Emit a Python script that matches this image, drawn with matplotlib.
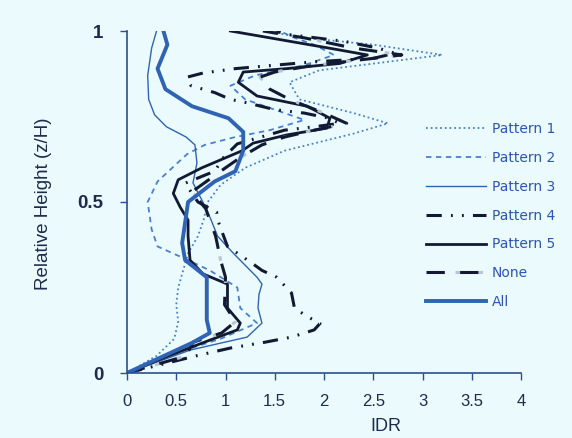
import matplotlib
matplotlib.use("Agg")
import matplotlib.pyplot as plt

# Data (IDR on x, relative height z/H on y)
y_p1 = [0, 0.05, 0.1, 0.15, 0.2, 0.25, 0.3, 0.35, 0.4, 0.45, 0.5, 0.55, 0.6, 0.65, 0.7, 0.73, 0.76, 0.8, 0.85, 0.885, 0.91, 0.93, 0.96, 0.98, 1.0]
x_p1 = [0, 0.3, 0.48, 0.52, 0.5, 0.52, 0.57, 0.62, 0.72, 0.78, 0.82, 0.95, 1.2, 1.6, 2.3, 2.65, 2.3, 1.75, 1.65, 1.95, 2.65, 3.2, 2.5, 1.8, 1.4]

y_p2 = [0, 0.05, 0.1, 0.146, 0.19, 0.25, 0.3, 0.33, 0.37, 0.42, 0.5, 0.56, 0.64, 0.667, 0.69, 0.71, 0.74, 0.77, 0.8, 0.84, 0.87, 0.9, 0.93, 0.96, 0.98, 1.0]
x_p2 = [0, 0.4, 0.95, 1.32, 1.15, 1.12, 0.84, 0.62, 0.31, 0.25, 0.21, 0.31, 0.61, 0.79, 1.1, 1.45, 1.8, 1.5, 1.2, 1.05, 1.3, 1.8, 2.1, 1.9, 1.7, 1.55]

y_p3 = [0, 0.067, 0.105, 0.146, 0.19, 0.23, 0.26, 0.28, 0.35, 0.4, 0.45, 0.5, 0.556, 0.614, 0.667, 0.69, 0.72, 0.755, 0.8, 0.87, 0.95, 1.0]
x_p3 = [0, 0.64, 1.22, 1.37, 1.33, 1.34, 1.37, 1.32, 1.08, 0.92, 0.85, 0.77, 0.67, 0.71, 0.69, 0.6, 0.4, 0.28, 0.22, 0.21, 0.25, 0.3]

y_p4 = [0, 0.05, 0.073, 0.09, 0.105, 0.126, 0.145, 0.165, 0.19, 0.234, 0.28, 0.3, 0.325, 0.37, 0.44, 0.47, 0.5, 0.555, 0.59, 0.63, 0.67, 0.695, 0.71, 0.72, 0.73, 0.745, 0.76, 0.77, 0.79, 0.8, 0.82, 0.84, 0.865, 0.877, 0.89, 0.91, 0.92, 0.935, 0.95, 0.97, 0.99, 1.0]
x_p4 = [0, 0.7, 1.05, 1.4, 1.67, 1.9, 1.96, 1.83, 1.7, 1.67, 1.52, 1.37, 1.25, 1.02, 0.93, 0.91, 0.72, 0.59, 0.89, 0.98, 1.12, 1.42, 1.6, 1.9, 2.16, 2.05, 1.8, 1.5, 1.22, 1.05, 0.89, 0.65, 0.61, 0.77, 1.1, 1.9, 2.5, 2.72, 2.55, 2.2, 1.63, 1.5]

y_p5 = [0, 0.05, 0.096, 0.126, 0.146, 0.19, 0.26, 0.29, 0.33, 0.4, 0.447, 0.485, 0.525, 0.565, 0.6, 0.65, 0.672, 0.696, 0.716, 0.745, 0.78, 0.81, 0.85, 0.88, 0.89, 0.905, 0.93, 0.95, 0.975, 1.0]
x_p5 = [0, 0.42, 0.84, 1.12, 1.15, 1.02, 1.02, 0.77, 0.64, 0.62, 0.62, 0.54, 0.47, 0.52, 0.76, 1.17, 1.28, 1.62, 2.03, 2.06, 1.83, 1.32, 1.13, 1.18, 1.62, 2.16, 2.44, 2.05, 1.55, 1.05]

y_none = [0, 0.05, 0.09, 0.117, 0.15, 0.2, 0.28, 0.33, 0.4, 0.48, 0.53, 0.6, 0.63, 0.667, 0.69, 0.71, 0.73, 0.76, 0.8, 0.83, 0.865, 0.88, 0.9, 0.92, 0.93, 0.95, 0.98, 1.0]
x_none = [0, 0.6, 0.67, 0.96, 1.1, 0.99, 1.0, 0.95, 0.9, 0.8, 0.66, 1.0, 1.15, 1.37, 1.6, 1.9, 2.23, 2.0, 1.65, 1.45, 1.35, 1.5, 1.9, 2.5, 2.79, 2.3, 1.8, 1.38]

y_all = [0, 0.088, 0.117, 0.155, 0.28, 0.33, 0.38, 0.44, 0.5, 0.56, 0.59, 0.65, 0.705, 0.745, 0.78, 0.83, 0.89, 0.96, 1.0]
x_all = [0, 0.66, 0.84, 0.81, 0.81, 0.59, 0.56, 0.59, 0.62, 0.89, 1.1, 1.18, 1.18, 1.03, 0.66, 0.39, 0.31, 0.41, 0.37]

x_ticks = [0, 0.5, 1, 1.5, 2, 2.5, 3, 3.5, 4]
x_tick_labels = ['0', '0.5', '1', '1.5', '2', '2.5', '3', '3.5', '4']
y_ticks = [0, 0.5, 1]
y_tick_labels = ['0', '0.5', '1']

bg = '#ebfbfd'
blue = '#2f63b4'
light_blue = '#4a7fcf'
dark = '#121a33'
axis_col = '#2b4f96'
text_col = '#1d2b4c'

plt.rcParams['font.family'] = ['Liberation Sans', 'DejaVu Sans']

fig = plt.figure(figsize=(5.72, 4.38), dpi=100, facecolor=bg)
ax = fig.add_axes([127 / 572, 1 - 373 / 438, 394 / 572, 342 / 438], facecolor=bg)

l1, = ax.plot(x_p1, y_p1, color=light_blue, lw=1.3, ls=(0, (1, 1.6)), label='Pattern 1')
l2, = ax.plot(x_p2, y_p2, color=light_blue, lw=1.3, ls=(0, (3, 2.5)), label='Pattern 2')
l3, = ax.plot(x_p3, y_p3, color=blue, lw=1.0, label='Pattern 3')
l4, = ax.plot(x_p4, y_p4, color=dark, lw=2.2, ls=(0, (5, 3, 0.6, 3, 0.6, 3)), label='Pattern 4')
l5, = ax.plot(x_p5, y_p5, color=dark, lw=2.0, label='Pattern 5')
l6g, = ax.plot(x_none, y_none, color='#b9c4d4', lw=2.2, ls=(5.5, (1.5, 6)))
l6, = ax.plot(x_none, y_none, color=dark, lw=2.2, ls=(0, (6, 5)))
l7, = ax.plot(x_all, y_all, color=blue, lw=2.8, label='All')

ax.set_xlim(0, 4)
ax.set_ylim(0, 1)
ax.set_xticks(x_ticks)
ax.set_xticklabels(x_tick_labels, fontsize=12, color=text_col)
ax.set_yticks(y_ticks)
ax.set_yticklabels(y_tick_labels, fontsize=13.5, fontweight='bold', color=text_col)
ax.tick_params(axis='both', direction='out', length=5, width=1, color=axis_col)
ax.tick_params(axis='x', pad=10)
ax.tick_params(axis='y', pad=12)
for s in ['top', 'right']:
    ax.spines[s].set_visible(False)
for s in ['left', 'bottom']:
    ax.spines[s].set_color(axis_col)
    ax.spines[s].set_linewidth(1.2)

ax.set_xlabel('IDR', fontsize=13, color=text_col)
ax.xaxis.set_label_coords((386 - 127) / 394, -(418 - 373) / 342)
ax.set_ylabel('Relative Height (z/H)', fontsize=13.5, color=text_col)
ax.yaxis.set_label_coords(-(127 - 52) / 394, (373 - 204) / 342)

leg = ax.legend([l1, l2, l3, l4, l5, (l6g, l6), l7],
                ['Pattern 1', 'Pattern 2', 'Pattern 3', 'Pattern 4', 'Pattern 5', 'None', 'All'],
                loc='upper left', bbox_to_anchor=(419 / 572, 1 - 115 / 438),
                bbox_transform=fig.transFigure, frameon=False,
                handlelength=4.3, handletextpad=0.45, labelspacing=1.07,
                borderpad=0, prop={'family': 'DejaVu Sans', 'size': 10})
for t in leg.get_texts():
    t.set_color('#2c55b4')

fig.savefig('out.png', dpi=100, facecolor=bg)
